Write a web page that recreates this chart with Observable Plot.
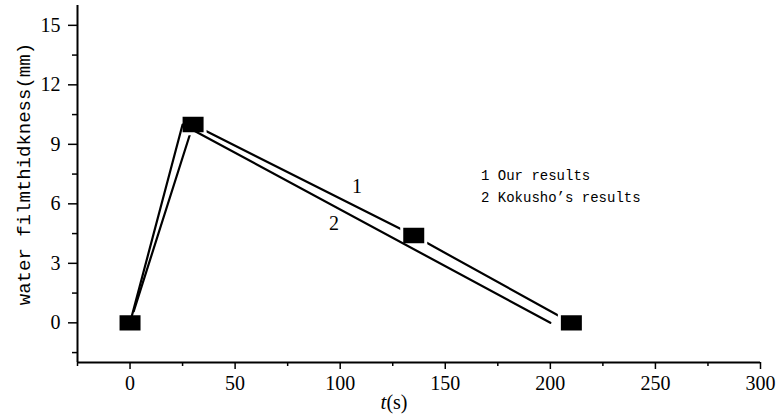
<!DOCTYPE html>
<html>
<head>
<meta charset="utf-8">
<script src="https://cdn.jsdelivr.net/npm/d3@7"></script>
<script src="https://cdn.jsdelivr.net/npm/@observablehq/plot@0.6"></script>
<style>
  html, body { margin: 0; padding: 0; background: #fff; }
</style>
</head>
<body>
<div id="chart"></div>
<script>
// Data
const ourT = [0, 30, 135, 210];
const ourH = [0, 10, 4.4, 0];
const kokT = [0, 25, 200];
const kokH = [0, 10, 0];
const xMajor = [0, 50, 100, 150, 200, 250, 300];
const xMinor = [-25, 25, 75, 125, 175, 225, 275];
const yMajor = [0, 3, 6, 9, 12, 15];
const yMinor = [-1.5, 1.5, 4.5, 7.5, 10.5, 13.5];
const curveLabels = [{t: 108, h: 6.85, s: "1"}, {t: 97, h: 5.0, s: "2"}];
const legendLines = [{t: 167, h: 7.45, s: "1 Our results"}, {t: 167, h: 6.33, s: "2 Kokusho\u2019s results"}];

const ours = ourT.map((t, i) => ({t, h: ourH[i]}));
const kok = kokT.map((t, i) => ({t, h: kokH[i]}));

const rectSymbol = {
  draw(context, size) {
    const r = Math.sqrt(size / Math.PI);
    const w = r * 1.5, h = r * 1.15;
    context.moveTo(-w, -h);
    context.lineTo(w, -h);
    context.lineTo(w, h);
    context.lineTo(-w, h);
    context.closePath();
  }
};

const serif = "Liberation Serif";
const mono = "Liberation Mono";

const chart = Plot.plot({
  width: 779,
  height: 418,
  marginLeft: 77,
  marginRight: 19,
  marginTop: 5,
  marginBottom: 56,
  style: {background: "#fff", color: "#000"},
  x: {domain: [-25, 300]},
  y: {domain: [-2, 16]},
  marks: [
    Plot.axisX({ticks: xMajor, tickSize: 7, tickPadding: 6, fontSize: 20, fontFamily: serif, label: null, strokeWidth: 1.5}),
    Plot.axisX({ticks: xMinor, tickSize: 4, tickFormat: () => "", label: null, strokeWidth: 1.5}),
    Plot.axisY({ticks: yMajor, tickSize: 9, tickPadding: 8, fontSize: 20, fontFamily: serif, label: null, strokeWidth: 1.5}),
    Plot.axisY({ticks: yMinor, tickSize: 5, tickFormat: () => "", label: null, strokeWidth: 1.5}),
    Plot.ruleY([-2], {strokeWidth: 2}),
    Plot.ruleX([-25], {strokeWidth: 2}),
    Plot.line(ours, {x: "t", y: "h", stroke: "#000", strokeWidth: 2.2}),
    Plot.dot(ours, {x: "t", y: "h", r: 8, symbol: rectSymbol, fill: "#000", stroke: "#fff", strokeWidth: 3}),
    Plot.line(kok, {x: "t", y: "h", stroke: "#000", strokeWidth: 2.2}),
    Plot.text(curveLabels, {x: "t", y: "h", text: "s", fontSize: 20, fontFamily: serif}),
    Plot.text(legendLines, {x: "t", y: "h", text: "s", textAnchor: "start", fontSize: 14, fontFamily: mono}),
    Plot.text(["water filmthidkness(mm)"], {x: -25, y: 7.5, text: d => d, rotate: -90, dx: -54, fontSize: 19, fontFamily: mono}),
    Plot.text(["t"], {x: 122, frameAnchor: "bottom", text: d => d, dy: 46, textAnchor: "end", fontSize: 21, fontStyle: "italic", fontFamily: serif}),
    Plot.text(["(s)"], {x: 122, frameAnchor: "bottom", text: d => d, dy: 46, textAnchor: "start", fontSize: 20, fontFamily: serif})
  ]
});
document.getElementById("chart").appendChild(chart);
</script>
</body>
</html>
